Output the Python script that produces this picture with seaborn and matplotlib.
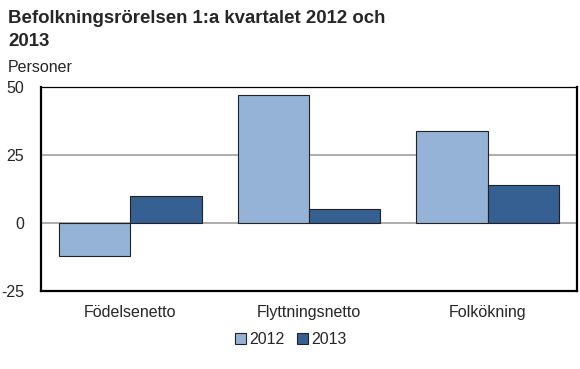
import matplotlib.pyplot as plt
import seaborn as sns
import pandas as pd

categories = ['Födelsenetto', 'Flyttningsnetto', 'Folkökning']
years = ['2012', '2013']
values_2012 = [-12, 47, 34]
values_2013 = [10, 5, 14]
yticks = [-25, 0, 25, 50]

df = pd.DataFrame({
    'kategori': categories * 2,
    'år': [years[0]] * 3 + [years[1]] * 3,
    'personer': values_2012 + values_2013,
})

sns.set_theme(style='white')
plt.rcParams['font.family'] = ['Liberation Sans', 'DejaVu Sans']

fig = plt.figure(figsize=(5.8, 3.69), dpi=100)
ax = fig.add_axes([41 / 580, 1 - 291 / 369, 536 / 580, 204 / 369])

palette = {'2012': '#95B3D7', '2013': '#366092'}
sns.barplot(data=df, x='kategori', y='personer', hue='år', palette=palette,
            saturation=1, width=0.8, gap=0, edgecolor='#222222', linewidth=0.8,
            ax=ax, zorder=3)

ax.set_ylim(-25, 50)
ax.set_yticks(yticks)
ax.set_yticklabels([str(t) for t in yticks], fontsize=11.5)
ax.set_xlim(-0.5, 2.5)
ax.tick_params(axis='x', labelsize=11.5, length=0, pad=10)
ax.tick_params(axis='y', length=0, pad=12)
ax.set_xlabel('')
ax.set_ylabel('')

for y in [0, 25]:
    ax.axhline(y, color='#a0a0a0', linewidth=1.2, zorder=1)

for side in ['left', 'bottom', 'right']:
    ax.spines[side].set_color('black')
    ax.spines[side].set_linewidth(1.6)
ax.spines['top'].set_color('black')
ax.spines['top'].set_linewidth(0.9)

fig.text(8 / 580, 1 - 10 / 369, 'Befolkningsrörelsen 1:a kvartalet 2012 och\n2013',
         fontsize=13.4, fontweight='bold', va='top', ha='left', linespacing=1.45)
fig.text(8 / 580, 1 - 68 / 369, 'Personer', fontsize=11.5, va='center', ha='left')

ax.legend(loc='center', bbox_to_anchor=(0.466, -0.24),
          ncol=2, frameon=False, fontsize=11.5, handlelength=0.7, handleheight=0.7,
          handletextpad=0.2, columnspacing=0.8)

fig.savefig('out.png', dpi=100)
